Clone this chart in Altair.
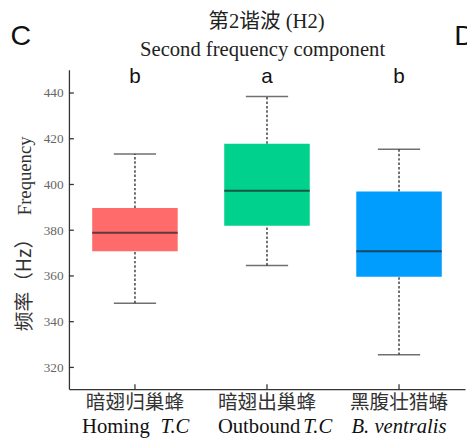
import altair as alt
import pandas as pd

categories = ["暗翅归巢蜂", "暗翅出巢蜂", "黑腹壮猎蝽"]
english_plain = ["Homing", "Outbound", ""]
english_italic = ["T.C", "T.C", "B. ventralis"]
mins = [348.1, 364.6, 325.5]
q1s = [370.8, 381.9, 359.7]
medians = [378.9, 397.3, 370.8]
q3s = [389.7, 417.8, 396.9]
maxs = [413.3, 438.5, 415.4]
letters = ["b", "a", "b"]
colors = ["#FF6B6B", "#00D18C", "#009DFF"]
y_ticks = [320, 340, 360, 380, 400, 420, 440]
y_domain = [310.5, 450.2]

title1 = "第2谐波 (H2)"
title2 = "Second frequency component"
y_title_cn = "频率（Hz）"
y_title_en = "Frequency"

W, H = 403, 325
SERIF = "'Liberation Serif', 'Noto Sans CJK SC', serif"
CJK = "'Noto Sans CJK SC', sans-serif"
SANS = "'Liberation Sans', Arial, sans-serif"

df = pd.DataFrame({
    "cat": categories, "plain": english_plain, "ital": english_italic,
    "min": mins, "q1": q1s, "median": medians, "q3": q3s, "max": maxs,
    "letter": letters,
})

xs = alt.Scale(domain=categories, paddingInner=0, paddingOuter=0)
ys = alt.Scale(domain=y_domain, nice=False, zero=False)
X = alt.X("cat:N", scale=xs, sort=categories,
          axis=alt.Axis(labels=False, ticks=False, title=None, domainColor="#333", domainWidth=1.3))
Y_axis = alt.Axis(values=y_ticks, ticks=False, grid=False, title=None, labelFont="Liberation Serif",
                  labelFontSize=13.5, labelColor="#666", labelPadding=6, domainColor="#333", domainWidth=1.3)

base = alt.Chart(df)

whisk_hi = base.mark_rule(color="#333", strokeWidth=1.4, strokeDash=[2.5, 2]).encode(
    x=X, y=alt.Y("q3:Q", scale=ys, axis=Y_axis), y2="max:Q")
whisk_lo = base.mark_rule(color="#333", strokeWidth=1.4, strokeDash=[2.5, 2]).encode(
    x=X, y=alt.Y("min:Q", scale=ys), y2="q1:Q")
caps_hi = base.mark_tick(color="#333", size=43, thickness=1.5).encode(x=X, y=alt.Y("max:Q", scale=ys))
caps_lo = base.mark_tick(color="#333", size=43, thickness=1.5).encode(x=X, y=alt.Y("min:Q", scale=ys))
boxes = base.mark_bar(size=87).encode(
    x=X, y=alt.Y("q1:Q", scale=ys), y2="q3:Q",
    color=alt.Color("cat:N", scale=alt.Scale(domain=categories, range=colors), legend=None))
med = base.mark_tick(color="#222", size=87, thickness=2).encode(x=X, y=alt.Y("median:Q", scale=ys))
let = base.mark_text(font=SANS, fontSize=21, color="#111", baseline="middle").encode(
    x=X, y=alt.value(8), text="letter:N")

# inward ticks
ytk = alt.Chart(pd.DataFrame({"v": y_ticks})).mark_rule(color="#333", strokeWidth=1.3).encode(
    y=alt.Y("v:Q", scale=ys), x=alt.value(0), x2=alt.value(5))
xtk = base.mark_rule(color="#333", strokeWidth=1.3).encode(
    x=X, y=alt.value(H), y2=alt.value(H - 5))

# category labels
cn_lab = base.mark_text(font=CJK, fontSize=20, color="#333", baseline="middle").encode(
    x=X, y=alt.value(339), text="cat:N")

plain_dx = [15, 34, 0]
ital_dx = [26, 37, 0]
en_layers = []
for i in range(3):
    sub = alt.Chart(df.iloc[[i]])
    if english_plain[i]:
        en_layers.append(sub.mark_text(font=SERIF, fontSize=21, color="#111", align="right",
                                       baseline="alphabetic", dx=plain_dx[i]).encode(
            x=X, y=alt.value(370), text="plain:N"))
        en_layers.append(sub.mark_text(font=SERIF, fontSize=21, color="#111", align="left",
                                       fontStyle="italic", baseline="alphabetic", dx=ital_dx[i]).encode(
            x=X, y=alt.value(370), text="ital:N"))
    else:
        en_layers.append(sub.mark_text(font=SERIF, fontSize=21, color="#111", align="center",
                                       fontStyle="italic", baseline="alphabetic").encode(
            x=X, y=alt.value(370), text="ital:N"))

one = pd.DataFrame({"t1": [title1], "t2": [title2], "ycn": [y_title_cn], "yen": [y_title_en],
                    "c": ["C"], "d": ["D"]})
oc = alt.Chart(one)
t1 = oc.mark_text(font=SERIF, fontSize=21, color="#222", baseline="alphabetic").encode(
    x=alt.value(201), y=alt.value(-42), text="t1:N")
t2 = oc.mark_text(font=SERIF, fontSize=21, color="#222", baseline="alphabetic").encode(
    x=alt.value(197), y=alt.value(-14), text="t2:N")
ytl_en = oc.mark_text(font=SERIF, fontSize=19, color="#333", angle=270, baseline="middle").encode(
    x=alt.value(-45), y=alt.value(108), text="yen:N")
ytl_cn = oc.mark_text(font=CJK, fontSize=20, color="#333", angle=270, baseline="middle").encode(
    x=alt.value(-45), y=alt.value(214), text="ycn:N")
cl = oc.mark_text(font=SANS, fontSize=29, color="#111", baseline="alphabetic").encode(
    x=alt.value(-49), y=alt.value(-25), text="c:N")
dl = oc.mark_text(font=SANS, fontSize=29, color="#111", baseline="alphabetic", align="left").encode(
    x=alt.value(392), y=alt.value(-25), text="d:N")

chart = alt.layer(
    whisk_hi, whisk_lo, caps_hi, caps_lo, boxes, med, let, ytk, xtk, cn_lab, *en_layers,
    t1, t2, ytl_en, ytl_cn, cl, dl
).properties(
    width=W, height=H,
    autosize=alt.AutoSizeParams(type="none"),
    padding={"left": 62, "top": 59, "right": 2, "bottom": 49},
).configure_view(stroke=None).configure_axis(grid=False)

chart.save("out.html", embed_options={"renderer": "svg", "actions": False})
